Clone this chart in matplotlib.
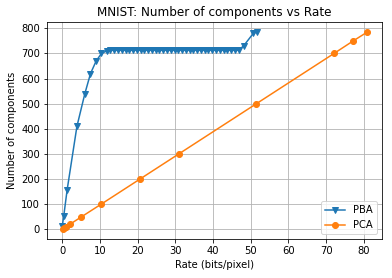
import numpy as np
import matplotlib
matplotlib.use("Agg")
import matplotlib.pyplot as plt

# PBA curve (rate in bits/pixel, number of components)
pba_rate = [0.0, 0.4, 1.3, 3.9, 6.0, 7.5, 9.0, 10.4, 11.8] + \
    [12.8 + i for i in range(35)] + [48.1, 50.7, 51.8]
pba_comp = [12, 53, 157, 410, 540, 620, 670, 700, 710] + \
    [713] * 35 + [730, 780, 786]

# PCA curve
pca_rate = [0.1, 0.5, 1.0, 2.0, 5.1, 10.3, 20.6, 30.9, 51.5, 72.1, 77.2, 80.8]
pca_comp = [1, 5, 10, 20, 50, 100, 200, 300, 500, 700, 750, 784]

W, H = 392, 278
fig = plt.figure(figsize=(W / 72, H / 72), dpi=72)
ax = fig.add_axes([47 / W, (H - 239) / H, (382 - 47) / W, (239 - 22) / H])

ax.plot(pba_rate, pba_comp, marker="v", label="PBA")
ax.plot(pca_rate, pca_comp, marker="o", label="PCA")

ax.set_xticks(np.arange(0, 81, 10))
ax.set_yticks(np.arange(0, 801, 100))
ax.grid(True)
ax.set_xlabel("Rate (bits/pixel)")
ax.set_ylabel("Number of components")
ax.set_title("MNIST: Number of components vs Rate")
ax.legend(loc="lower right")

fig.savefig("out.png", dpi=72)
